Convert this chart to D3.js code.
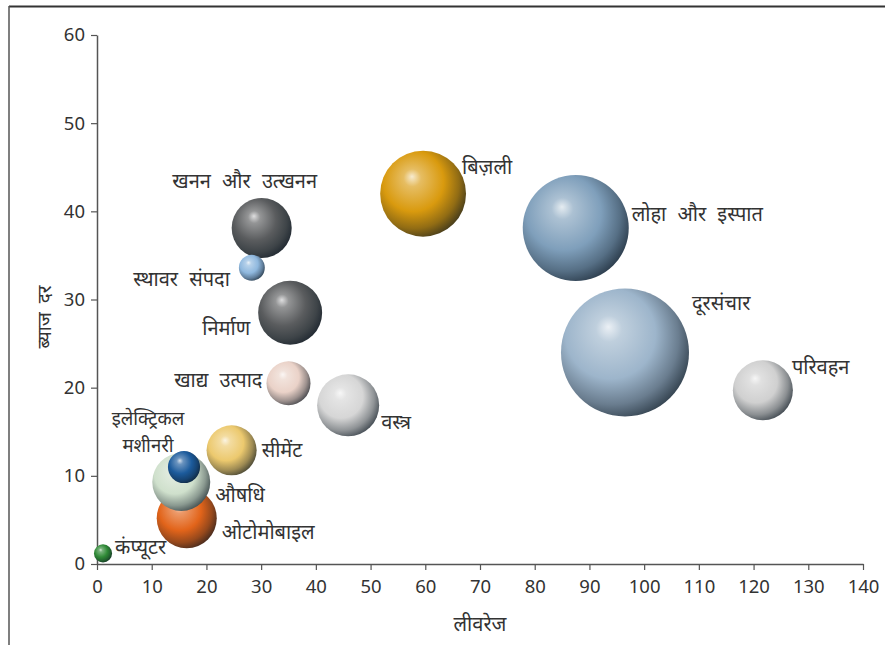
<!DOCTYPE html>
<html>
<head>
<meta charset="utf-8">
<script src="https://cdn.jsdelivr.net/npm/d3@7/dist/d3.min.js"></script>
<style>
  html, body { margin: 0; padding: 0; background: #fff; }
  svg { display: block; font-family: "Noto Sans", "Noto Sans Devanagari", sans-serif; }
</style>
</head>
<body>
<svg id="chart" width="885" height="645"></svg>
<script>
// Sectors: leverage (x), interest rate (y), bubble size
const sectors = ["कंप्यूटर", "ओटोमोबाइल", "औषधि", "इलेक्ट्रिकल मशीनरी", "सीमेंट", "खाद्य उत्पाद", "वस्त्र",
                 "खनन और उत्खनन", "स्थावर संपदा", "निर्माण", "बिज़ली", "लोहा और इस्पात", "दूरसंचार", "परिवहन"];
const leverage = [1.1, 16.4, 15.4, 15.9, 24.6, 35.0, 45.9, 30.1, 28.3, 35.3, 59.6, 87.5, 96.5, 121.7];
const interestRate = [1.2, 5.2, 9.3, 11.0, 12.9, 20.5, 18.0, 38.1, 33.6, 28.5, 42.0, 38.1, 24.0, 19.7];
const bubbleSize = [2.0, 22.0, 20.5, 6.3, 15.3, 11.8, 23.5, 22.0, 4.1, 25.0, 45.0, 68.6, 100, 22.0];
const sphereColors = ["#2f8a36", "#e2641a", "#cfe0cc", "#1c5b9c", "#ecc96e", "#ead2c8", "#d6d6d6",
                      "#5a5c5e", "#8fb8de", "#5a5c5e", "#d99a0e", "#7f9fbb", "#9db5cb", "#d0d0d0"];
const xTicks = [0, 10, 20, 30, 40, 50, 60, 70, 80, 90, 100, 110, 120, 130, 140];
const yTicks = [0, 10, 20, 30, 40, 50, 60];
const xTitle = "लीवरेज";
const yTitle = "ब्याज दर";

// Label placement around each bubble: side, offsets (in px from bubble edge/center)
const labelPlacement = {
  "कंप्यूटर": { side: "right", dx: 3, dy: -5 },
  "ओटोमोबाइल": { side: "right", dx: 5, dy: 15 },
  "औषधि": { side: "right", dx: 5, dy: 15 },
  "इलेक्ट्रिकल मशीनरी": { side: "above", dx: -36, dy: -47, lines: ["इलेक्ट्रिकल", "मशीनरी"], size: 18.5, gap: 27 },
  "सीमेंट": { side: "right", dx: 5, dy: 1 },
  "खाद्य उत्पाद": { side: "left", dx: 4, dy: -2 },
  "वस्त्र": { side: "right", dx: 2, dy: 18 },
  "खनन और उत्खनन": { side: "above", dx: -17, dy: -45 },
  "स्थावर संपदा": { side: "left", dx: 9, dy: 13 },
  "निर्माण": { side: "left", dx: 8, dy: 17 },
  "बिज़ली": { side: "right", dx: -4, dy: -25 },
  "लोहा और इस्पात": { side: "right", dx: 3, dy: -12 },
  "दूरसंचार": { side: "right", dx: 3, dy: -48 },
  "परिवहन": { side: "right", dx: -1, dy: -22 }
};

const svg = d3.select("#chart");
const margin = { left: 97, right: 22, top: 35, bottom: 81 };
const W = 885, H = 645;

const x = d3.scaleLinear().domain([0, 140]).range([margin.left, W - margin.right]);
const y = d3.scaleLinear().domain([0, 60]).range([H - margin.bottom, margin.top]);
const r = d3.scaleSqrt().domain([0, 100]).range([0, 64]);

// Outer frame (top and left rules)
svg.append("line").attr("x1", 9).attr("x2", W).attr("y1", 6.5).attr("y2", 6.5)
  .attr("stroke", "#333").attr("stroke-width", 2);
svg.append("line").attr("x1", 9).attr("x2", 9).attr("y1", 6).attr("y2", H)
  .attr("stroke", "#555").attr("stroke-width", 1.5);

// Axes
const axisColor = "#555";
const xAxis = svg.append("g").attr("transform", `translate(0,${y(0)})`)
  .call(d3.axisBottom(x).tickValues(xTicks).tickSize(6).tickSizeOuter(0).tickPadding(10));
const yAxis = svg.append("g").attr("transform", `translate(${x(0)},0)`)
  .call(d3.axisLeft(y).tickValues(yTicks).tickSize(6).tickSizeOuter(0).tickPadding(6));
[xAxis, yAxis].forEach(g => {
  g.select(".domain").attr("stroke", axisColor).attr("stroke-width", 1.5);
  g.selectAll(".tick line").attr("stroke", axisColor).attr("stroke-width", 1.2);
  g.selectAll(".tick text").attr("fill", "#333").attr("font-size", 18.5)
    .attr("font-family", "'Noto Sans', sans-serif");
});

// Axis titles
svg.append("text").attr("x", x(70)).attr("y", 631).attr("text-anchor", "middle")
  .attr("font-size", 20).attr("fill", "#333").text(xTitle);
svg.append("text").attr("transform", `translate(51,317) rotate(-90)`).attr("text-anchor", "middle")
  .attr("font-size", 19).attr("word-spacing", 4).attr("fill", "#333").text(yTitle);

// Sphere shading gradients
const defs = svg.append("defs");
sectors.forEach((s, i) => {
  const base = d3.color(sphereColors[i]);
  const hi = d3.interpolateRgb(base, "#ffffff")(0.8);
  const g = defs.append("radialGradient").attr("id", "sphere" + i)
    .attr("cx", "0.4").attr("cy", "0.4").attr("r", "0.64")
    .attr("fx", "0.37").attr("fy", "0.3");
  g.append("stop").attr("offset", "0").attr("stop-color", hi);
  g.append("stop").attr("offset", "0.16").attr("stop-color", d3.interpolateRgb(base, "#ffffff")(0.35));
  g.append("stop").attr("offset", "0.55").attr("stop-color", base.formatHex());
  g.append("stop").attr("offset", "0.82").attr("stop-color", d3.interpolateRgb(base, "#0b1620")(0.35));
  g.append("stop").attr("offset", "1").attr("stop-color", d3.interpolateRgb(base, "#0b1620")(0.7));
});

const data = sectors.map((s, i) => ({ name: s, lev: leverage[i], rate: interestRate[i], size: bubbleSize[i], idx: i }));

// Draw bigger bubbles first so small ones sit on top
const order = data.slice().sort((a, b) => b.size - a.size);
svg.append("g").selectAll("circle").data(order).join("circle")
  .attr("cx", d => x(d.lev)).attr("cy", d => y(d.rate)).attr("r", d => r(d.size))
  .attr("fill", d => `url(#sphere${d.idx})`);

// Labels (multi-line labels are drawn as separate text rows)
const labels = svg.append("g").attr("font-size", 20).attr("word-spacing", 6).attr("fill", "#333");
data.forEach(d => {
  const p = labelPlacement[d.name];
  const cx = x(d.lev), cy = y(d.rate), rad = r(d.size);
  let tx, anchor;
  if (p.side === "right") { tx = cx + rad + p.dx; anchor = "start"; }
  else if (p.side === "left") { tx = cx - rad - p.dx; anchor = "end"; }
  else { tx = cx + p.dx; anchor = "middle"; }
  const lines = p.lines || [d.name];
  lines.forEach((ln, k) => {
    const t = labels.append("text").attr("x", tx).attr("y", cy + p.dy + k * (p.gap || 0))
      .attr("text-anchor", anchor).attr("dominant-baseline", "middle").text(ln);
    if (p.size) t.attr("font-size", p.size);
  });
});
</script>
</body>
</html>
